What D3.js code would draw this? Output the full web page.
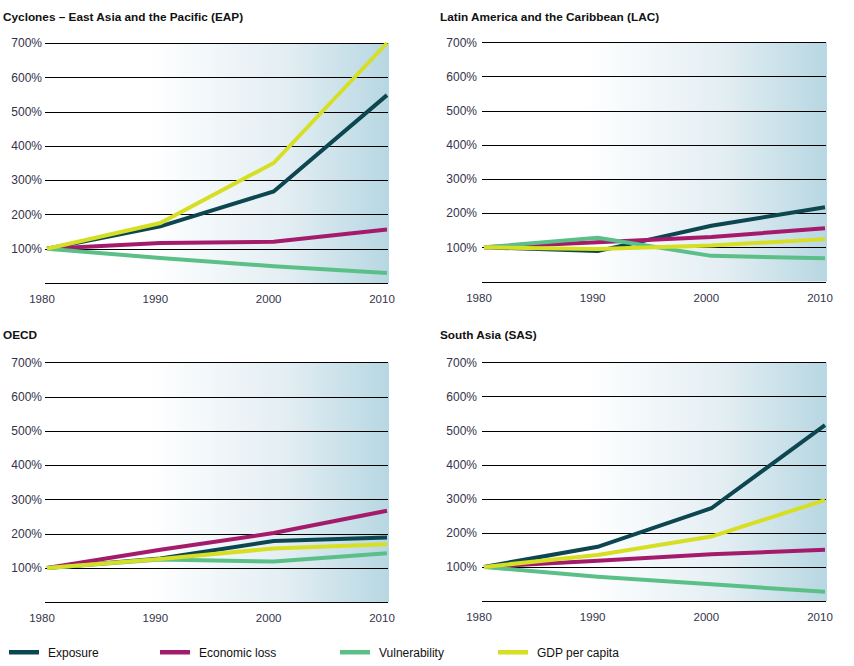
<!DOCTYPE html>
<html>
<head>
<meta charset="utf-8">
<script src="https://cdn.jsdelivr.net/npm/d3@7"></script>
<style>
  html, body { margin: 0; padding: 0; background: #ffffff; }
  svg { display: block; font-family: "Liberation Sans", Arial, Helvetica, sans-serif; }
</style>
</head>
<body>
<svg id="chart" width="854" height="666"></svg>
<script>
// ---- data ----
const years = [1980, 1990, 2000, 2010];
const yTicks = [100, 200, 300, 400, 500, 600, 700];
const seriesNames = ["Exposure", "Economic loss", "Vulnerability", "GDP per capita"];
const seriesColors = ["#0c4651", "#a41b6b", "#5bbf88", "#d6df23"];

const eapExposure = [100, 165, 267, 548];
const eapLoss     = [100, 117, 120, 156];
const eapVuln     = [100, 73, 49, 29];
const eapGdp      = [100, 175, 350, 700];

const lacExposure = [100, 89, 163, 217];
const lacLoss     = [100, 115, 130, 156];
const lacVuln     = [100, 128, 75, 68];
const lacGdp      = [100, 95, 105, 124];

const oecdExposure = [100, 128, 179, 189];
const oecdLoss     = [100, 153, 202, 267];
const oecdVuln     = [100, 125, 119, 143];
const oecdGdp      = [100, 126, 157, 169];

const sasExposure = [100, 159, 272, 516];
const sasLoss     = [100, 118, 137, 150];
const sasVuln     = [100, 71, 49, 27];
const sasGdp      = [100, 135, 189, 296];

const panelTitles = [
  "Cyclones \u2013 East Asia and the Pacific (EAP)",
  "Latin America and the Caribbean (LAC)",
  "OECD",
  "South Asia (SAS)"
];
const panelData = [
  [eapExposure, eapLoss, eapVuln, eapGdp],
  [lacExposure, lacLoss, lacVuln, lacGdp],
  [oecdExposure, oecdLoss, oecdVuln, oecdGdp],
  [sasExposure, sasLoss, sasVuln, sasGdp]
];

// ---- layout ----
const panels = [
  { titleX: 3,   titleY: 21,  left: 45,  right: 388, top: 43,    bottom: 283,   dataL: 47,  dataR: 387, labelEnd: 42 },
  { titleX: 440, titleY: 21,  left: 482, right: 826, top: 42.3,  bottom: 281.5, dataL: 484, dataR: 825, labelEnd: 477 },
  { titleX: 3,   titleY: 339, left: 45,  right: 388, top: 362.3, bottom: 602.3, dataL: 47,  dataR: 387, labelEnd: 42 },
  { titleX: 440, titleY: 339, left: 482, right: 826, top: 362.3, bottom: 601,   dataL: 484, dataR: 825, labelEnd: 477 }
];

const svg = d3.select("#chart");
const defs = svg.append("defs");
const grad = defs.append("linearGradient").attr("id", "bg").attr("x1", "0").attr("x2", "1").attr("y1", "0").attr("y2", "0");
grad.append("stop").attr("offset", "0%").attr("stop-color", "#ffffff");
grad.append("stop").attr("offset", "30%").attr("stop-color", "#ffffff");
grad.append("stop").attr("offset", "70%").attr("stop-color", "#e3eef3");
grad.append("stop").attr("offset", "100%").attr("stop-color", "#b7d7e2");

panels.forEach((p, i) => {
  const g = svg.append("g");
  const x = d3.scaleLinear().domain([1980, 2010]).range([p.dataL, p.dataR]);
  const y = d3.scaleLinear().domain([0, 700]).range([p.bottom, p.top]);

  g.append("rect")
    .attr("x", p.left).attr("y", p.top)
    .attr("width", p.right - p.left + 1).attr("height", p.bottom - p.top)
    .attr("fill", "url(#bg)");

  // gridlines (including 0 baseline)
  g.selectAll("line.grid").data([0].concat(yTicks)).enter().append("line")
    .attr("x1", p.left).attr("x2", p.right)
    .attr("y1", d => Math.round(y(d)) + 0.5).attr("y2", d => Math.round(y(d)) + 0.5)
    .attr("stroke", "#000").attr("stroke-width", 1);

  // y labels
  g.selectAll("text.ylab").data(yTicks).enter().append("text")
    .attr("x", p.labelEnd).attr("y", d => y(d) + 4.3)
    .attr("text-anchor", "end")
    .attr("font-size", "12px").attr("fill", "#33334a")
    .text(d => d + "%");

  // x labels
  g.selectAll("text.xlab").data(years).enter().append("text")
    .attr("x", d => x(d) - 5).attr("y", p.bottom + 20)
    .attr("text-anchor", "middle")
    .attr("font-size", "11.5px").attr("fill", "#33334a")
    .text(d => d);

  // title
  g.append("text")
    .attr("x", p.titleX).attr("y", p.titleY)
    .attr("font-size", "11.8px").attr("font-weight", "bold").attr("fill", "#111")
    .text(panelTitles[i]);

  // lines
  const line = d3.line().x((d, k) => x(years[k])).y(d => y(d));
  panelData[i].forEach((vals, s) => {
    g.append("path")
      .attr("d", line(vals))
      .attr("fill", "none")
      .attr("stroke", seriesColors[s])
      .attr("stroke-width", 4)
      .attr("stroke-linejoin", "miter")
      .attr("stroke-linecap", "butt");
  });
});

// legend
const legendX = [9, 160, 340, 498];
const lg = svg.append("g");
seriesNames.forEach((name, s) => {
  lg.append("rect")
    .attr("x", legendX[s]).attr("y", 650)
    .attr("width", 30).attr("height", 4.5)
    .attr("fill", seriesColors[s]);
  lg.append("text")
    .attr("x", legendX[s] + 39).attr("y", 656.5)
    .attr("font-size", "12px").attr("fill", "#111")
    .text(name);
});
</script>
</body>
</html>
